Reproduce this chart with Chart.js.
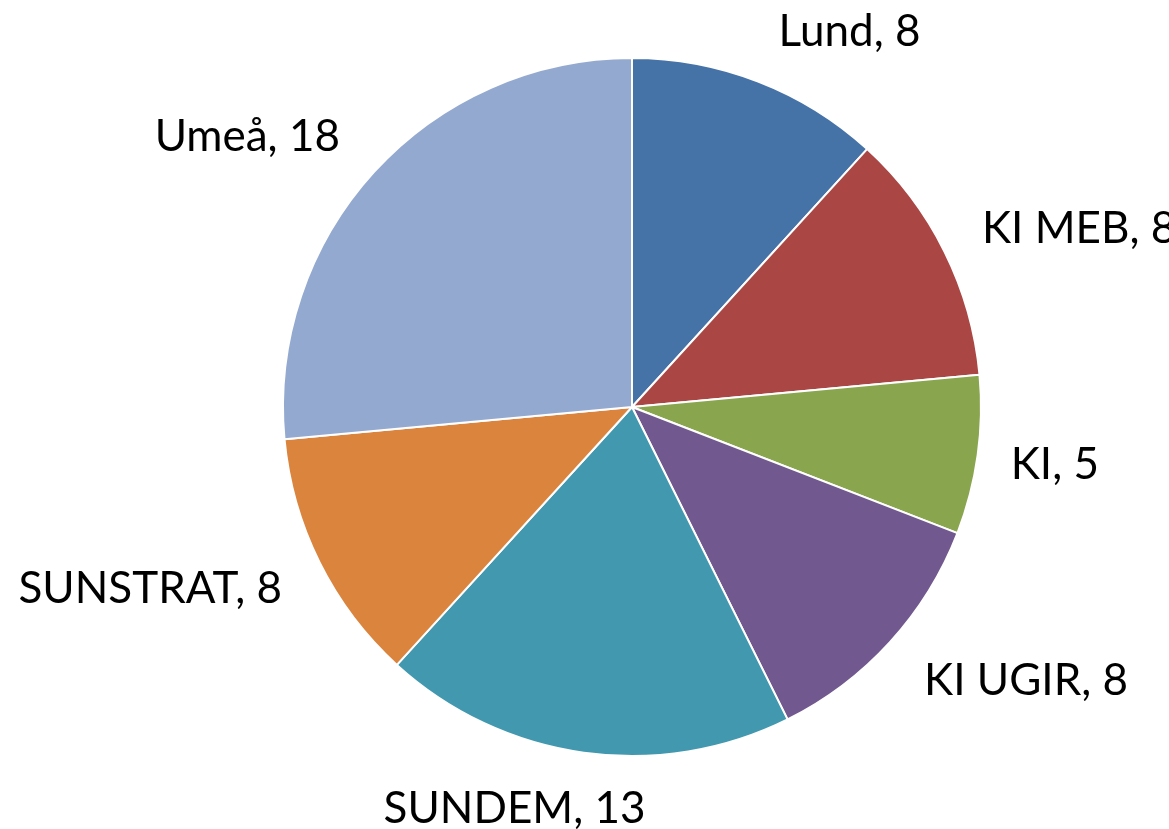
<!DOCTYPE html>
<html>
<head>
<meta charset="utf-8">
<script src="https://cdn.jsdelivr.net/npm/chart.js@4"></script>
<style>
html,body{margin:0;padding:0;background:#fff;}
canvas{display:block;}
</style>
</head>
<body>
<canvas id="c" width="1169" height="829"></canvas>
<script>
const categories = ["Lund", "KI MEB", "KI", "KI UGIR", "SUNDEM", "SUNSTRAT", "Umeå"];
const values = [8, 8, 5, 8, 13, 8, 18];
const sliceColors = ["#4572A7", "#AA4643", "#89A54E", "#71588F", "#4198AF", "#DB843D", "#93A9CF"];

const FONT = '400 44px Lato';
const CAP = 32;

const outsideLabels = {
  id: 'outsideLabels',
  afterDatasetsDraw(chart) {
    const ctx = chart.ctx;
    const meta = chart.getDatasetMeta(0);
    ctx.save();
    ctx.font = FONT;
    ctx.fillStyle = '#000';
    ctx.textAlign = 'center';
    ctx.textBaseline = 'alphabetic';
    meta.data.forEach((arc, i) => {
      const p = arc.getProps(['x', 'y', 'startAngle', 'endAngle', 'outerRadius'], true);
      const mid = (p.startAngle + p.endAngle) / 2;
      const dx = Math.cos(mid), dy = Math.sin(mid);
      const gap = 30;
      const extra = 12 * Math.sign(dx) * Math.min(1, Math.abs(dy) * 2) * Math.min(1, Math.max(0, Math.abs(dx) - 0.2) * 5);
      const ax = p.x + (p.outerRadius + gap) * dx + extra;
      const ay = p.y + (p.outerRadius + gap) * dy;
      const text = categories[i] + ', ' + values[i];
      const w = ctx.measureText(text).width;
      const h = 50;
      const f = Math.max(-1, Math.min(1, dx * 3.6));
      const cx = ax + (w / 2) * f;
      const cy = ay + (h / 2) * dy;
      ctx.fillText(text, cx, cy + CAP / 2);
    });
    ctx.restore();
  }
};

new Chart(document.getElementById('c'), {
  type: 'pie',
  data: {
    labels: categories,
    datasets: [{
      data: values,
      backgroundColor: sliceColors,
      borderColor: '#ffffff',
      borderWidth: 2
    }]
  },
  options: {
    responsive: false,
    animation: false,
    layout: { padding: { top: 57, bottom: 72, left: 200, right: 105 } },
    plugins: {
      legend: { display: false },
      tooltip: { enabled: false }
    }
  },
  plugins: [outsideLabels]
});
</script>
</body>
</html>
